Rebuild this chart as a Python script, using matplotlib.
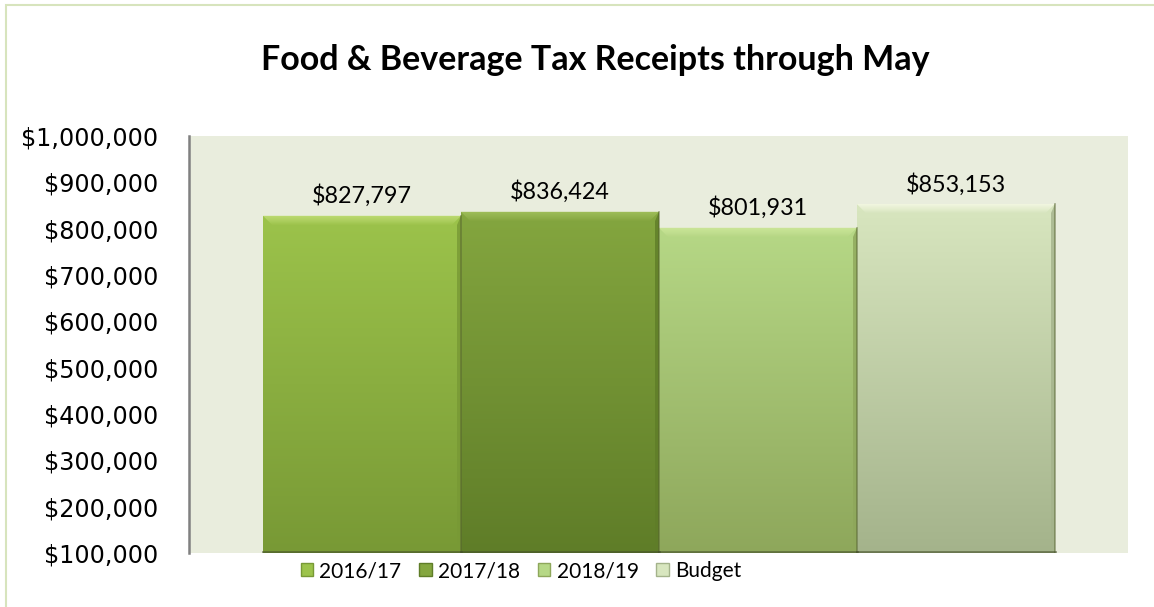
import numpy as np
import matplotlib.pyplot as plt
from matplotlib.colors import LinearSegmentedColormap
from matplotlib.patches import Polygon, Rectangle
from matplotlib.ticker import FuncFormatter

series = ["2016/17", "2017/18", "2018/19", "Budget"]
receipts = [827797, 836424, 801931, 853153]
top_colors = ["#9cc34b", "#84a63f", "#b6d886", "#d8e6bf"]
bottom_colors = ["#789935", "#5f7d28", "#8ea75b", "#a4b38b"]
bevel_colors = ["#c2de78", "#a3c25f", "#cfe89b", "#f3f7e2"]

fig = plt.figure(figsize=(11.54, 6.07), dpi=100)
fig.patch.set_facecolor("white")
fig.patches.append(Rectangle((6 / 1154, -0.1), 1.2, 1.1 - 5 / 607, transform=fig.transFigure,
                             fill=False, edgecolor="#d7e4bd", linewidth=1.5))

ax = fig.add_axes([189 / 1154, 1 - 553 / 607, 939 / 1154, 417 / 607])
ax.set_facecolor("#e9eddd")

x = np.arange(len(series))
bars = ax.bar(x, receipts, width=1.0, bottom=0, color=top_colors, edgecolor="none", zorder=2)
ax.set_ylim(100000, 1000000)
ax.set_xlim(-0.874, 3.87)

# per-pixel sizes in data units, used for the bevel
px_y = 900000 / 417
px_x = 1 / 198

grad = np.linspace(0, 1, 256).reshape(-1, 1)
for i, b in enumerate(bars):
    x0, w, h = b.get_x(), b.get_width(), b.get_height()
    cmap = LinearSegmentedColormap.from_list("g%d" % i, [top_colors[i], bottom_colors[i]])
    im = ax.imshow(grad, cmap=cmap, aspect="auto", extent=(x0, x0 + w, 100000, h),
                   origin="upper", zorder=2.1)
    im.set_clip_path(b)
    # bevelled top edge, fading into the bar
    bv = 9
    for k in range(bv):
        a = 0.95 * (1 - k / bv)
        ax.add_patch(Polygon([(x0 + k * px_x, h - k * px_y), (x0 + w - k * px_x, h - k * px_y),
                              (x0 + w - (k + 1) * px_x, h - (k + 1) * px_y),
                              (x0 + (k + 1) * px_x, h - (k + 1) * px_y)],
                             closed=True, facecolor=bevel_colors[i], alpha=a, edgecolor="none", zorder=2.2))
    # darker side edge and bottom shadow
    ax.add_patch(Polygon([(x0 + w, h), (x0 + w, 100000), (x0 + w - 4 * px_x, 100000),
                          (x0 + w - 4 * px_x, h - bv * px_y)],
                         closed=True, facecolor=bottom_colors[i], alpha=0.8, edgecolor="none", zorder=2.2))
    ax.plot([x0 + w, x0 + w], [100000, h], color="#55622f", alpha=0.55, lw=1.2, zorder=2.3)
    ax.plot([x0, x0 + w], [100000 + px_y, 100000 + px_y], color="#44502a", alpha=0.6, lw=2, zorder=2.3)
    ax.text(x0 + w / 2, h + 20 * px_y, "${:,}".format(receipts[i]), ha="center", va="center",
            fontsize=16.8, family="Lato", color="black", zorder=3)

ax.set_xticks([])
ax.yaxis.set_major_locator(plt.MultipleLocator(100000))
ax.yaxis.set_major_formatter(FuncFormatter(lambda v, p: "${:,.0f}".format(v)))
ax.tick_params(axis="y", length=0, pad=22, labelsize=17.2, labelcolor="black")
for s in ["top", "right", "bottom"]:
    ax.spines[s].set_visible(False)
ax.spines["left"].set_color("#808080")
ax.spines["left"].set_linewidth(1.8)

handles = [Rectangle((0, 0), 1, 1, facecolor=top_colors[i], edgecolor=bottom_colors[i], lw=1)
           for i in range(len(series))]
fig.legend(handles, series, loc="center", bbox_to_anchor=(521 / 1154, 1 - 571 / 607), ncol=4,
           frameon=False, prop={"family": "Lato", "size": 15}, handlelength=0.6, handleheight=0.6,
           handletextpad=0.3, columnspacing=0.85)

fig.text(595 / 1154, 1 - 60 / 607, "Food & Beverage Tax Receipts through May", ha="center", va="center",
         fontsize=24.5, fontweight="bold", family="Lato")

fig.savefig("out.png", dpi=100)
